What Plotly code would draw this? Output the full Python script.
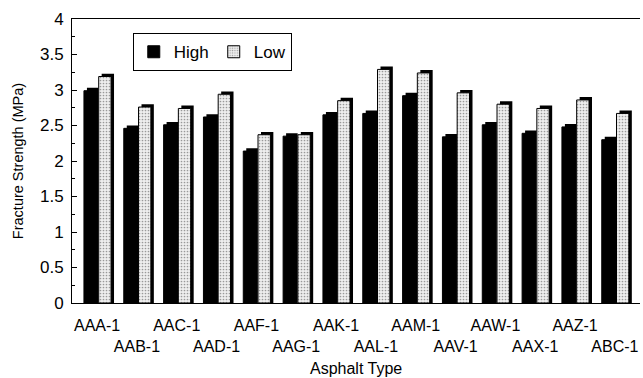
import plotly.graph_objects as go

categories = ["AAA-1", "AAB-1", "AAC-1", "AAD-1", "AAF-1", "AAG-1", "AAK-1",
              "AAL-1", "AAM-1", "AAV-1", "AAW-1", "AAX-1", "AAZ-1", "ABC-1"]
high = [2.99, 2.46, 2.51, 2.62, 2.14, 2.35, 2.65, 2.67, 2.92, 2.34, 2.51, 2.39, 2.48, 2.30]
low = [3.19, 2.76, 2.74, 2.94, 2.37, 2.37, 2.85, 3.29, 3.24, 2.96, 2.80, 2.74, 2.86, 2.67]
y_ticks = [0, 0.5, 1, 1.5, 2, 2.5, 3, 3.5, 4]
y_ticktext = ["0", "0.5", "1", "1.5", "2", "2.5", "3", "3.5", "4"]

FONT = "Arial, Liberation Sans, Helvetica, sans-serif"
x = list(range(len(categories)))
# staggered labels: odd positions go to the second row
xtext = [c if i % 2 == 0 else "<br>" + c for i, c in enumerate(categories)]

HW, LW = 0.29, 0.31
HOFF, LOFF = -0.33, 0.04
DX, DY = 0.075, 0.04

fig = go.Figure()
# 3-D depth (drawn behind the front faces)
fig.add_trace(go.Bar(x=x, y=[v + DY for v in high], width=HW, offset=HOFF + DX,
                     marker=dict(color="black", line=dict(width=0)),
                     showlegend=False, hoverinfo="skip"))
fig.add_trace(go.Bar(x=x, y=[v + DY for v in low], width=LW, offset=LOFF + DX,
                     marker=dict(color="black", line=dict(width=0)),
                     showlegend=False, hoverinfo="skip"))
# front faces
fig.add_trace(go.Bar(x=x, y=high, width=HW, offset=HOFF, name="High",
                     marker=dict(color="black", line=dict(color="black", width=1))))
fig.add_trace(go.Bar(x=x, y=low, width=LW, offset=LOFF, name="Low",
                     marker=dict(color="white", line=dict(color="black", width=1),
                                 pattern=dict(shape=".", fgcolor="#444444", bgcolor="#eeeeee",
                                              size=3, solidity=0.25))))

fig.update_layout(
    barmode="overlay",
    width=643, height=378,
    margin=dict(l=72, r=3, t=19, b=75),
    paper_bgcolor="white", plot_bgcolor="white",
    font=dict(family=FONT, size=16, color="black"),
    legend=dict(orientation="h", x=0.107, y=0.95, xanchor="left", yanchor="top",
                bordercolor="black", borderwidth=1, bgcolor="white",
                font=dict(size=17, family=FONT), itemwidth=30, tracegroupgap=0),
    xaxis=dict(range=[-0.63, 13.63], tickmode="array", tickvals=x, ticktext=xtext,
               tickangle=0, ticklabelstandoff=8,
               showline=True, linecolor="black", linewidth=1, mirror=True,
               ticks="", showgrid=False, zeroline=False,
               tickfont=dict(size=16, family=FONT)),
    yaxis=dict(range=[0, 4], tickmode="array", tickvals=y_ticks, ticktext=y_ticktext,
               showline=True, linecolor="black", linewidth=1,
               ticks="inside", ticklen=5, tickcolor="black", ticklabelstandoff=4,
               minor=dict(ticks="inside", ticklen=3, dtick=0.25, tickcolor="black"),
               showgrid=False, zeroline=False,
               tickfont=dict(size=17, family=FONT),
               title=dict(text="Fracture Strength (MPa)", font=dict(size=14.5, family=FONT), standoff=12)),
    annotations=[dict(text="Asphalt Type", xref="paper", yref="paper",
                      x=0.5, y=-0.229, xanchor="center", yanchor="middle",
                      showarrow=False, font=dict(size=16, family=FONT))],
)

fig.write_html("out.html")
